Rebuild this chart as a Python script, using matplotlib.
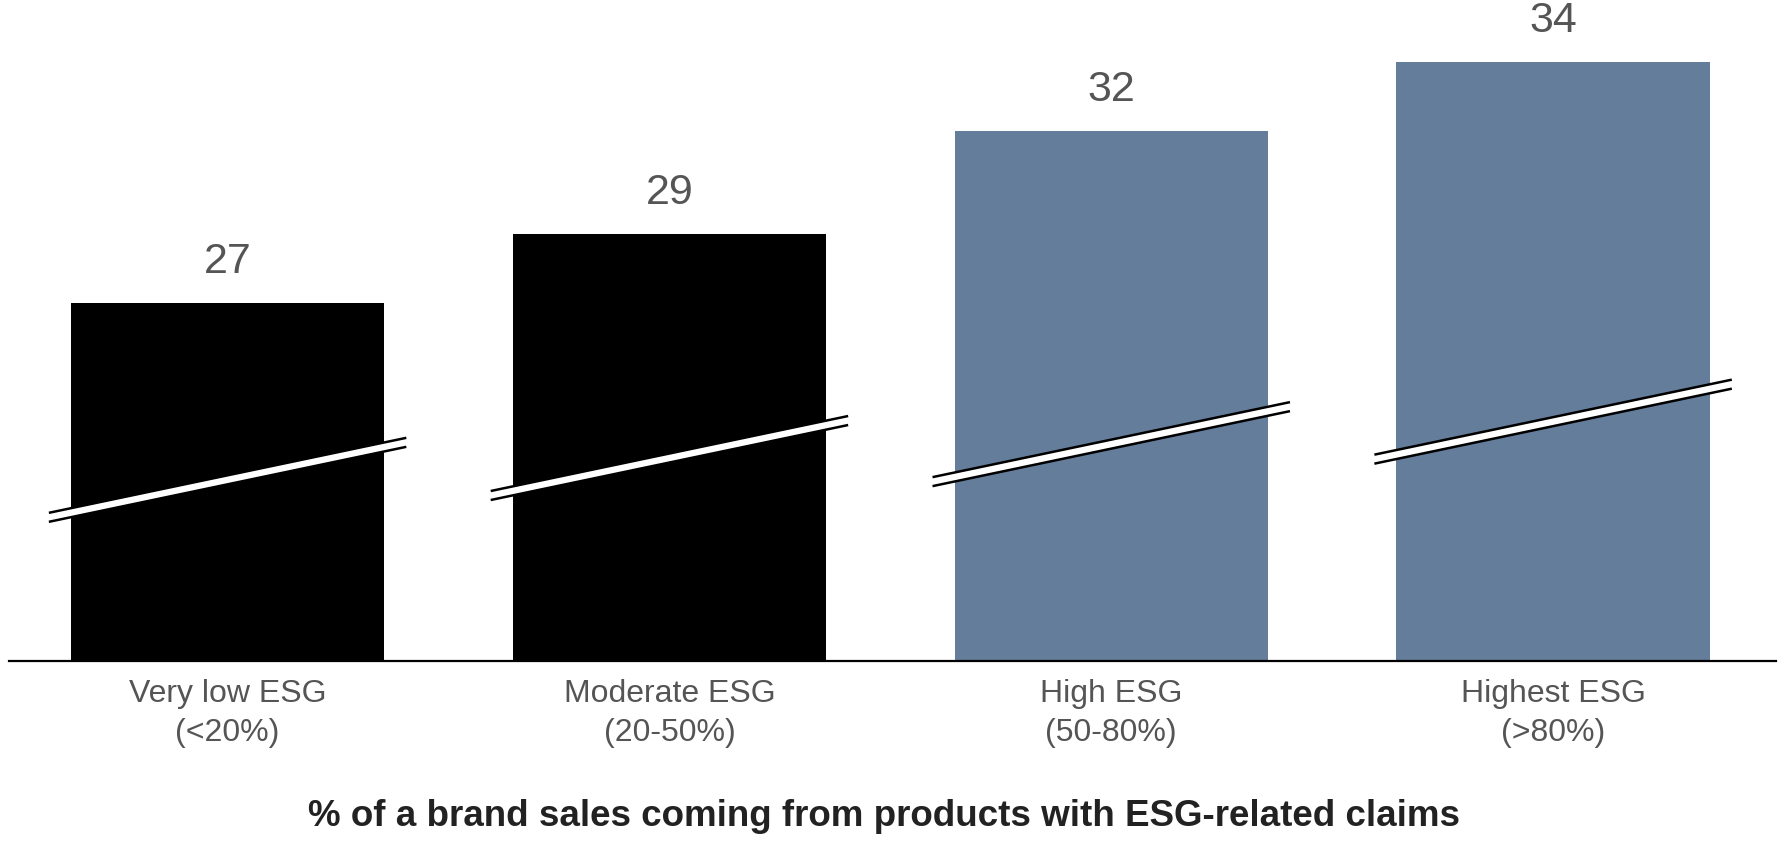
import matplotlib.pyplot as plt
import numpy as np
from matplotlib.patches import Polygon

plt.rcParams['font.family'] = ['Liberation Sans', 'DejaVu Sans']

# data
categories = ["Very low ESG\n(<20%)", "Moderate ESG\n(20-50%)", "High ESG\n(50-80%)", "Highest ESG\n(>80%)"]
values = [27, 29, 32, 34]
bar_colors = ["#000000", "#000000", "#647D9B", "#647D9B"]
xlabel_text = "% of a brand sales coming from products with ESG-related claims"

# axis-break marks: centre height of each slanted break (axes fraction)
break_heights = [0.274, 0.307, 0.328, 0.362]

fig = plt.figure(figsize=(17.78, 8.43), dpi=100)
ax = fig.add_axes([0.005, 0.216, 0.994, 0.784])

x = np.arange(len(values))
bar_w = 0.709
ax.bar(x, values, width=bar_w, color=bar_colors, zorder=2)

ax.set_xlim(-0.495, 3.505)
ax.set_ylim(16.61, 35.80)

# value labels above bars
for xi, v in zip(x, values):
    ax.annotate(str(v), (xi, v), xytext=(0, 29.5), textcoords="offset points",
                ha="center", va="center", fontsize=31, color="#555555")

# slanted break marks across each bar
xmin, xmax = ax.get_xlim()
span = xmax - xmin
ax_h_px = 0.784 * 843
half_w = (bar_w / 2 + 0.05) / span
half_rise = 37.5 / ax_h_px
half_gap = 4.5 / ax_h_px
for xi, yc in zip(x, break_heights):
    xc = (xi - xmin) / span
    xl, xr = xc - half_w, xc + half_w
    yl, yr = yc - half_rise, yc + half_rise
    poly = Polygon([(xl, yl + half_gap), (xr, yr + half_gap),
                    (xr, yr - half_gap), (xl, yl - half_gap)],
                   closed=True, facecolor="white", edgecolor="none",
                   transform=ax.transAxes, clip_on=False, zorder=3)
    ax.add_patch(poly)
    for s in (1, -1):
        ax.plot([xl, xr], [yl + s * half_gap, yr + s * half_gap], color="black",
                lw=1.8, transform=ax.transAxes, clip_on=False, zorder=4,
                solid_capstyle="butt")

# axes styling
for side in ("top", "right", "left"):
    ax.spines[side].set_visible(False)
ax.spines["bottom"].set_linewidth(1.6)
ax.spines["bottom"].set_color("black")
ax.set_yticks([])
ax.set_xticks(x)
ax.set_xticklabels(categories, fontsize=23, color="#555555", linespacing=1.4)
ax.tick_params(axis="x", length=0, pad=13)

fig.text(0.497, 0.032, xlabel_text, ha="center", va="center",
         fontsize=26.5, fontweight="bold", color="#222222")

fig.savefig("out.png", dpi=100, facecolor="white")
